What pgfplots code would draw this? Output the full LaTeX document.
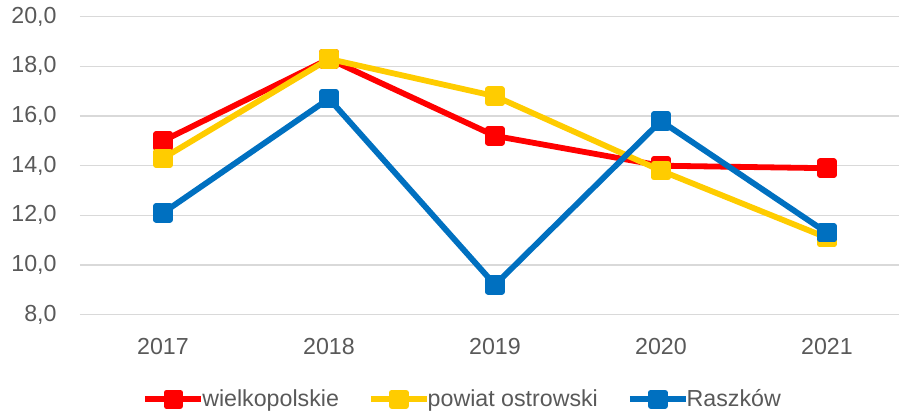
\documentclass[border=0pt]{standalone}
\usepackage{fontspec}
\setmainfont{Liberation Sans}
\usepackage{pgfplots}
\pgfplotsset{compat=1.18}
\definecolor{cred}{HTML}{FF0000}
\definecolor{cyel}{HTML}{FFCC00}
\definecolor{cblue}{HTML}{0070C0}
\definecolor{cgrid}{HTML}{D9D9D9}
\definecolor{ctext}{HTML}{595959}
\begin{document}
\begin{tikzpicture}[x=1pt,y=1pt]
\path[use as bounding box] (-40,-49.65) rectangle (409.5,157.35);
\begin{axis}[
  at={(0,0)}, anchor=south west,
  scale only axis, width=409.5pt, height=149pt,
  xmin=-0.5, xmax=4.434, ymin=8, ymax=20,
  xtick={0,1,2,3,4}, xticklabels={2017,2018,2019,2020,2021},
  ytick={8,10,12,14,16,18,20},
  ymajorgrids, grid style={cgrid, line width=0.75pt},
  axis line style={draw=none},
  major tick length=0pt,
  tick label style={font=\fontsize{11.6}{13.9}\selectfont, text=ctext, inner sep=0pt},
  yticklabel style={xshift=-11.5pt, /pgf/number format/use comma, /pgf/number format/fixed, /pgf/number format/fixed zerofill, /pgf/number format/precision=1, /pgf/number format/assume math mode=true},
  xticklabel style={yshift=-11.5pt},
  clip=false,
  every axis plot/.append style={line width=2.9pt, line join=round, mark=square*, mark size=3.4pt, mark options={solid, line width=0.2pt, line join=miter}},
  legend columns=3,
  legend style={draw=none, fill=none, at={(0.466,-0.284)}, anchor=center,
    font=\fontsize{11.6}{13.9}\selectfont, text=ctext,
    nodes={inner sep=0pt},
    /tikz/every even column/.append style={column sep=14.5pt},
    /tikz/every odd column/.append style={column sep=0pt}},
  legend image code/.code={\draw[mark repeat=2,mark phase=2,#1] plot coordinates {(0pt,0pt) (14pt,0pt) (28pt,0pt)};},
]
\addplot[color=cred, mark options={fill=cred}] coordinates {(0,15.0) (1,18.3) (2,15.2) (3,14.0) (4,13.9)};
\addlegendentry{\hspace{-1pt}wielkopolskie}
\addplot[color=cyel, mark options={fill=cyel}] coordinates {(0,14.3) (1,18.3) (2,16.8) (3,13.8) (4,11.1)};
\addlegendentry{\hspace{-1pt}powiat ostrowski}
\addplot[color=cblue, mark options={fill=cblue}] coordinates {(0,12.1) (1,16.7) (2,9.2) (3,15.8) (4,11.3)};
\addlegendentry{\hspace{-1pt}Raszków}
\end{axis}
\end{tikzpicture}
\end{document}
